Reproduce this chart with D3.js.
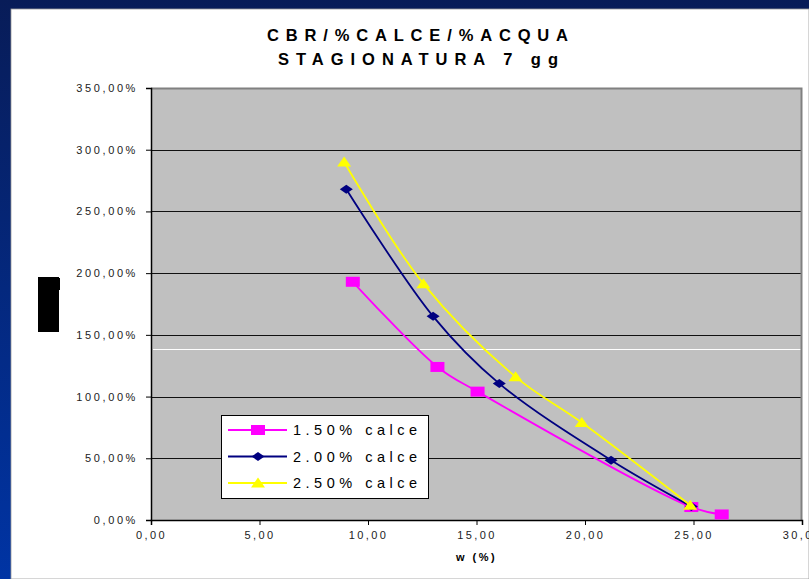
<!DOCTYPE html>
<html>
<head>
<meta charset="utf-8">
<script src="https://cdn.jsdelivr.net/npm/d3@7"></script>
<style>
  html, body { margin: 0; padding: 0; background: #fff; }
  svg { display: block; font-family: "Liberation Sans", Arial, sans-serif; }
</style>
</head>
<body>
<div id="chart"></div>
<script>
// data: w (%) vs CBR (%)
var series = ["1.50% calce", "2.00% calce", "2.50% calce"];
var w15 = [9.3, 13.2, 15.05, 24.9, 26.3];
var cbr15 = [193, 124, 104, 10.5, 4.5];
var w20 = [9.0, 13.0, 16.05, 21.2, 24.9];
var cbr20 = [268, 165, 110.5, 48.5, 11];
var w25 = [8.9, 12.55, 16.8, 19.85, 24.85];
var cbr25 = [290, 191.5, 116, 79, 12];
var xTicks = [0, 5, 10, 15, 20, 25, 30];
var yTicks = [0, 50, 100, 150, 200, 250, 300, 350];

var W = 809, H = 579;
var margin = {top: 88, right: 7, bottom: 59, left: 151},
    width = W - margin.left - margin.right,
    height = H - margin.top - margin.bottom;

var svg = d3.select("#chart").append("svg")
    .attr("width", W)
    .attr("height", H);

// slide frame
var defs = svg.append("defs");
var grad = defs.append("linearGradient").attr("id", "frame")
    .attr("x1", 0).attr("y1", 0).attr("x2", 0).attr("y2", 1);
grad.append("stop").attr("offset", "0%").attr("stop-color", "#081c58");
grad.append("stop").attr("offset", "100%").attr("stop-color", "#0034a4");
svg.append("rect").attr("width", W).attr("height", H).attr("fill", "url(#frame)");
svg.append("rect").attr("x", 11).attr("y", 9).attr("width", W - 11).attr("height", H - 9)
    .attr("fill", "#fff").attr("stroke", "#9a9a9a").attr("stroke-width", 0.8);

// title
var title = svg.append("g").attr("font-weight", "bold").attr("font-size", 16.5).attr("fill", "#000");
title.append("text").attr("x", 267).attr("y", 41)
    .attr("textLength", 301).attr("lengthAdjust", "spacing")
    .text("CBR/%CALCE/%ACQUA");
title.append("text").attr("x", 278).attr("y", 65)
    .attr("textLength", 280).attr("lengthAdjust", "spacing")
    .text("STAGIONATURA 7 gg");

// clipped y axis title remnant
svg.append("rect").attr("x", 38).attr("y", 277).attr("width", 21).attr("height", 55).attr("fill", "#000");
svg.append("rect").attr("x", 58).attr("y", 278).attr("width", 2).attr("height", 12).attr("fill", "#000");

var g = svg.append("g")
    .attr("transform", "translate(" + margin.left + "," + margin.top + ")");

var x = d3.scaleLinear().domain([0, 30]).range([0, width]);
var y = d3.scaleLinear().domain([0, 350]).range([height, 0]);

// plot area
g.append("rect").attr("width", width).attr("height", height).attr("fill", "#c0c0c0");

// gridlines
g.append("g").selectAll("line")
    .data(yTicks.filter(function (d) { return d > 0 && d < 350; }))
    .enter().append("line")
    .attr("x1", 0).attr("x2", width)
    .attr("y1", function (d) { return Math.round(y(d)) + 0.5; })
    .attr("y2", function (d) { return Math.round(y(d)) + 0.5; })
    .attr("stroke", "#111").attr("stroke-width", 1);

// odd white stripe in the picture
g.append("line").attr("x1", 2).attr("x2", width)
    .attr("y1", Math.round(y(138.5)) + 0.5).attr("y2", Math.round(y(138.5)) + 0.5)
    .attr("stroke", "#fff").attr("stroke-width", 1);

// plot border top & right
g.append("path")
    .attr("d", "M0,0.5H" + (width - 0.5) + "V" + height)
    .attr("fill", "none").attr("stroke", "#808080").attr("stroke-width", 2);

// axes
var fmt = function (d) { return d3.format(".2f")(d).replace(".", ","); };

var yAxis = g.append("g")
    .call(d3.axisLeft(y).tickValues(yTicks).tickSize(5).tickPadding(8)
      .tickFormat(function (d) { return fmt(d) + "%"; }));
yAxis.select(".domain").attr("stroke", "#000").attr("stroke-width", 1.5);
yAxis.selectAll(".tick line").attr("stroke", "#000");
yAxis.selectAll("text").attr("font-size", 11).attr("fill", "#222")
    .attr("font-family", "'Liberation Sans', Arial, sans-serif")
    .style("letter-spacing", "2.6px");

var xAxis = g.append("g").attr("transform", "translate(0," + height + ")")
    .call(d3.axisBottom(x).tickValues(xTicks).tickSize(5).tickPadding(6)
      .tickFormat(fmt));
xAxis.select(".domain").attr("stroke", "#000").attr("stroke-width", 1.5);
xAxis.selectAll(".tick line").attr("stroke", "#000");
xAxis.selectAll("text").attr("font-size", 11).attr("fill", "#222")
    .attr("font-family", "'Liberation Sans', Arial, sans-serif")
    .style("letter-spacing", "2.4px");

svg.append("text")
    .attr("x", margin.left + width / 2).attr("y", 561)
    .attr("text-anchor", "middle")
    .attr("font-size", 11).attr("font-weight", "bold")
    .style("letter-spacing", "2.5px")
    .text("w  (%)");

// series
var markers = {
  square: "M-7,-5H7V5H-7Z",
  diamond: "M-6.5,0L0,-4.5L6.5,0L0,4.5Z",
  triangle: "M0,-5.5L7,4.5H-7Z"
};
var sets = [
  {name: series[0], xs: w15, ys: cbr15, color: "#ff00ff", marker: markers.square},
  {name: series[1], xs: w20, ys: cbr20, color: "#000080", marker: markers.diamond},
  {name: series[2], xs: w25, ys: cbr25, color: "#ffff00", marker: markers.triangle}
];

var line = d3.line()
    .x(function (d) { return x(d[0]); })
    .y(function (d) { return y(d[1]); })
    .curve(d3.curveCatmullRom.alpha(0.5));

sets.forEach(function (s) {
  var pts = s.xs.map(function (v, i) { return [v, s.ys[i]]; });
  g.append("path").datum(pts)
    .attr("d", line)
    .attr("fill", "none").attr("stroke", s.color).attr("stroke-width", 1.8);
  g.append("g").selectAll("path")
    .data(pts).enter().append("path")
    .attr("transform", function (d) { return "translate(" + x(d[0]) + "," + y(d[1]) + ")"; })
    .attr("d", s.marker)
    .attr("fill", s.color);
});

// legend
var lg = svg.append("g").attr("transform", "translate(221,415)");
lg.append("rect").attr("x", 0.5).attr("y", 0.5).attr("width", 207).attr("height", 83)
    .attr("fill", "#fff").attr("stroke", "#000").attr("stroke-width", 1);
sets.forEach(function (s, i) {
  var yy = 15 + i * 26.5;
  lg.append("line").attr("x1", 7).attr("x2", 66).attr("y1", yy).attr("y2", yy)
    .attr("stroke", s.color).attr("stroke-width", 1.8);
  lg.append("path").attr("transform", "translate(37," + yy + ")")
    .attr("d", s.marker).attr("fill", s.color);
  lg.append("text").attr("x", 72).attr("y", yy + 5)
    .attr("font-size", 14.5).attr("fill", "#000")
    .attr("textLength", 124).attr("lengthAdjust", "spacing")
    .text(s.name.replace(" ", "  "));
});
</script>
</body>
</html>
